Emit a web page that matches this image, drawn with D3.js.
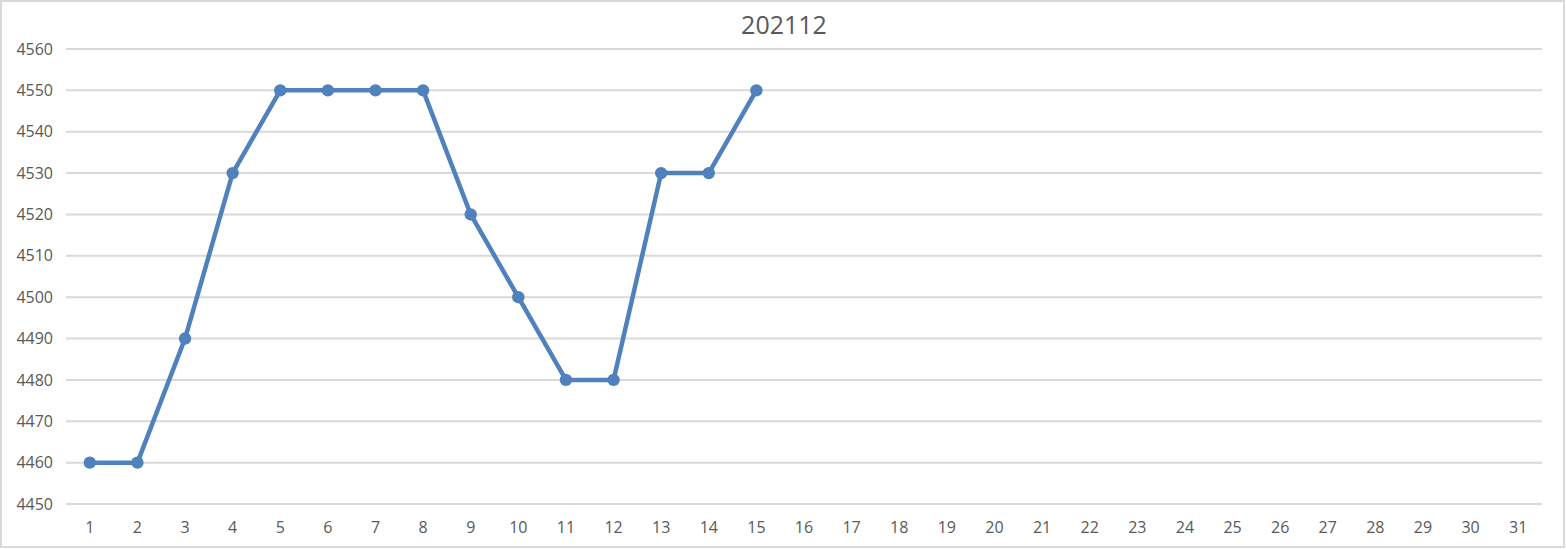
<!DOCTYPE html>
<html><head><meta charset="utf-8">
<script src="https://cdn.jsdelivr.net/npm/d3@7"></script>
<style>html,body{margin:0;padding:0;background:#fff;}svg{display:block;}</style>
</head><body>
<script>
const title = "202112";
const days = d3.range(1, 32).map(String);
const values = [4460,4460,4490,4530,4550,4550,4550,4550,4520,4500,4480,4480,4530,4530,4550];
const yTicks = [4450,4460,4470,4480,4490,4500,4510,4520,4530,4540,4550,4560];

const W = 1566, H = 549;
const m = {left: 66, right: 24, top: 49, bottom: 45};
const svg = d3.select("body").append("svg").attr("width", W).attr("height", H);
svg.append("rect").attr("x",1).attr("y",1).attr("width",W-3).attr("height",H-3)
  .attr("fill","#fff").attr("stroke","#d9d9d9").attr("stroke-width",2);

const x = d3.scaleBand().domain(days).range([m.left, W - m.right]);
const y = d3.scaleLinear().domain([4450, 4560]).range([H - m.bottom, m.top]);
const font = "'Open Sans', 'Liberation Sans', Arial, sans-serif";

svg.append("g").selectAll("line").data(yTicks).join("line")
  .attr("x1", m.left).attr("x2", W - m.right)
  .attr("y1", d => y(d)).attr("y2", d => y(d))
  .attr("stroke", "#d9d9d9").attr("stroke-width", 2);

const ya = svg.append("g").attr("transform", `translate(${m.left},0)`)
  .call(d3.axisLeft(y).tickValues(yTicks).tickFormat(d3.format("d")).tickSize(0).tickPadding(13));
ya.select(".domain").remove();
ya.selectAll("text").attr("font-family", font).attr("font-size", 16).attr("fill", "#595959");

const xa = svg.append("g").attr("transform", `translate(0,${H - m.bottom})`)
  .call(d3.axisBottom(x).tickSize(0).tickPadding(18));
xa.select(".domain").remove();
xa.selectAll("text").attr("font-family", font).attr("font-size", 16).attr("fill", "#595959");

const pts = values.map((v, i) => ({d: days[i], v}));
const cx = d => x(d.d) + x.bandwidth() / 2;
svg.append("path").datum(pts)
  .attr("fill", "none").attr("stroke", "#4f81bd").attr("stroke-width", 4.5)
  .attr("stroke-linejoin", "round")
  .attr("d", d3.line().x(cx).y(d => y(d.v)));
svg.append("g").selectAll("circle").data(pts).join("circle")
  .attr("cx", cx).attr("cy", d => y(d.v)).attr("r", 6.2).attr("fill", "#4f81bd");

svg.append("text").attr("x", 784).attr("y", 34).attr("text-anchor", "middle")
  .attr("font-family", font).attr("font-size", 25).attr("fill", "#595959").text(title);
</script>
</body></html>
